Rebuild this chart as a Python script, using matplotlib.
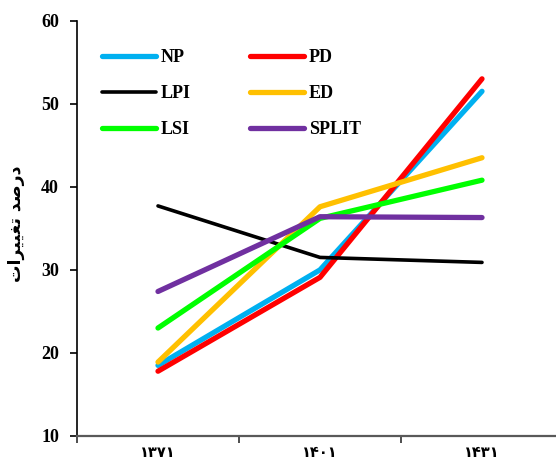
import matplotlib
matplotlib.use("Agg")
import matplotlib.pyplot as plt
from matplotlib.ticker import FixedLocator, NullFormatter, FixedFormatter

# ---- data ----
years = ['\u06F1\u06F3\u06F7\u06F1', '\u06F1\u06F4\u06F0\u06F1', '\u06F1\u06F4\u06F3\u06F1']  # ۱۳۷۱ ۱۴۰۱ ۱۴۳۱
np_vals = [18.5, 30.0, 51.5]
pd_vals = [17.8, 29.1, 53.0]
lpi_vals = [37.7, 31.5, 30.9]
ed_vals = [18.9, 37.6, 43.5]
lsi_vals = [23.0, 36.2, 40.8]
split_vals = [27.4, 36.4, 36.3]
series_names = ['NP', 'PD', 'LPI', 'ED', 'LSI', 'SPLIT']
# y label "درصد تغییرات" in shaped presentation forms, visual order
ylabel_text = '\uFE95\uFE8D\uFEAE\uFEF4\uFEF4\uFED0\uFE97 \uFEAA\uFEBB\uFEAD\uFEA9'
yticks = [10, 20, 30, 40, 50, 60]

W, H = 556, 463
fig = plt.figure(figsize=(W / 100, H / 100), dpi=100)
ax = fig.add_axes([77 / W, (H - 436) / H, (563 - 77) / W, (436 - 20.7) / H])

series = [
    (np_vals, '#00B0F0', 3.8),
    (pd_vals, '#FF0000', 3.8),
    (lpi_vals, '#000000', 2.6),
    (ed_vals, '#FFC000', 3.8),
    (lsi_vals, '#00FF00', 3.8),
    (split_vals, '#7030A0', 3.8),
]
xs = list(range(len(years)))
handles = {}
for (vals, col, lw), name in zip(series, series_names):
    h, = ax.plot(xs, vals, color=col, lw=lw, solid_capstyle='round',
                 solid_joinstyle='round', label=name)
    handles[name] = h

ax.set_xlim(-0.5, len(years) - 0.5)
ax.set_ylim(10, 60)

serif = ['Liberation Serif', 'DejaVu Serif']
# x axis: ticks between categories, labels at categories
ax.xaxis.set_major_locator(FixedLocator([i - 0.5 for i in range(len(years) + 1)]))
ax.xaxis.set_major_formatter(NullFormatter())
ax.xaxis.set_minor_locator(FixedLocator(xs))
ax.xaxis.set_minor_formatter(FixedFormatter(years))
ax.tick_params(axis='x', which='major', direction='out', length=5, width=1.3, color='#404040')
ax.tick_params(axis='x', which='minor', length=0, pad=6.5)
for lab in ax.xaxis.get_minorticklabels():
    lab.set_fontfamily('DejaVu Sans')
    lab.set_fontweight('bold')
    lab.set_fontsize(10.5)

ax.set_yticks(yticks)
ax.tick_params(axis='y', direction='out', length=5, width=1.2, pad=8)
for lab in ax.get_yticklabels():
    lab.set_fontfamily(serif)
    lab.set_fontweight('bold')
    lab.set_fontsize(13)

for s in ['top', 'right']:
    ax.spines[s].set_visible(False)
ax.spines['left'].set_color('black')
ax.spines['left'].set_linewidth(1.2)
ax.spines['bottom'].set_color('#595959')
ax.spines['bottom'].set_linewidth(1.6)

fig.text(16.5 / W, 1 - 224 / H, ylabel_text, rotation=90, ha='center', va='center',
         fontfamily='DejaVu Sans', fontweight='bold', fontsize=12.5)

order = ['NP', 'LPI', 'LSI', 'PD', 'ED', 'SPLIT']
leg = ax.legend(handles=[handles[n] for n in order], ncol=2, frameon=False,
                loc='upper left', bbox_to_anchor=(102 / W, 1 - 49.5 / H),
                bbox_transform=fig.transFigure, borderpad=0, borderaxespad=0,
                handlelength=3.0, handletextpad=0.25, columnspacing=3.3,
                labelspacing=1.05,
                prop={'family': serif, 'weight': 'bold', 'size': 13})

fig.savefig('out.png', dpi=100)
